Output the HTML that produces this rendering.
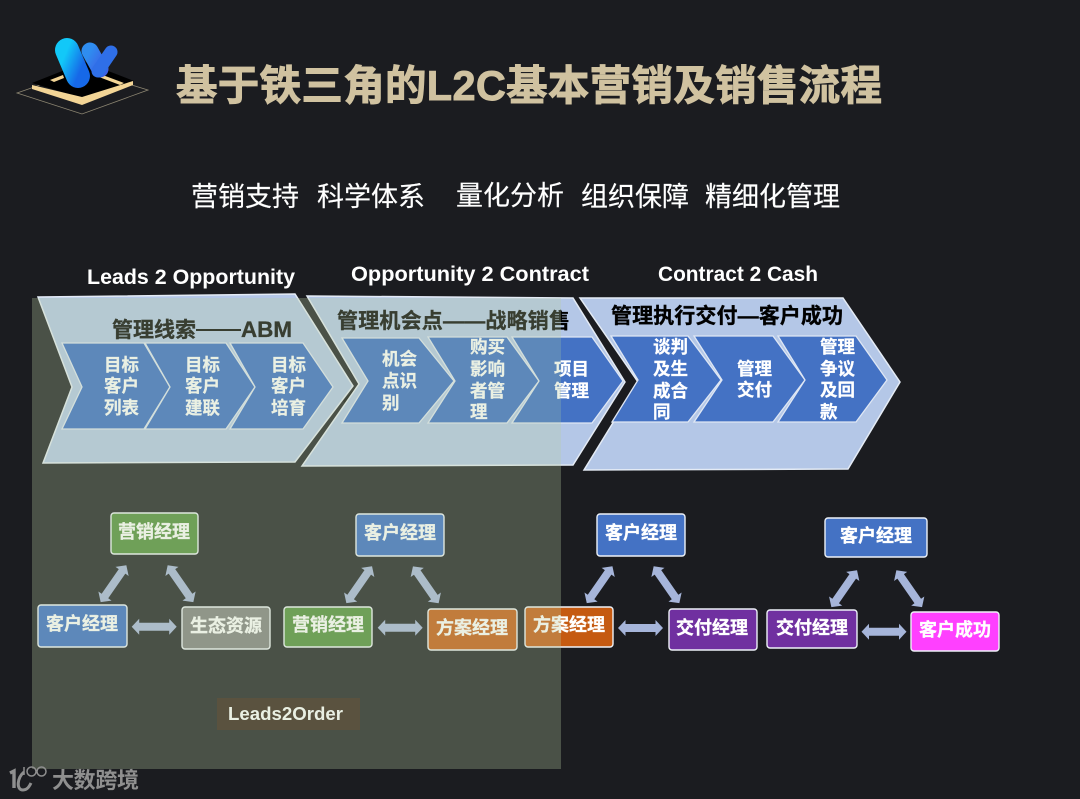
<!DOCTYPE html>
<html>
<head>
<meta charset="utf-8">
<style>
html,body{margin:0;padding:0;background:#1b1c20;width:1080px;height:799px;overflow:hidden}
svg{display:block}
text{font-family:"Liberation Sans","Noto Sans CJK SC",sans-serif}
.c{font-size:17.5px;font-weight:700;fill:#fff;stroke:#fff;stroke-width:.25}
.b{font-size:18px;font-weight:700;fill:#fff;text-anchor:middle;stroke:#fff;stroke-width:.3}
.h{font-size:21.5px;font-weight:700;fill:#fff}
.s{font-size:27px;fill:#fff;stroke:#fff;stroke-width:.15}
.k{font-weight:700;fill:#000;stroke:#000;stroke-width:.35}
.o{fill:#b4c7e7;stroke:#e4ebf5;stroke-width:1.5}
.i{stroke:#dfe7f4;stroke-width:1.3}
.r{stroke:#eef2f8;stroke-width:1.4}
.a{fill:#a6b5da}
</style>
</head>
<body>
<svg width="1080" height="799" viewBox="0 0 1080 799" xmlns="http://www.w3.org/2000/svg">
<defs>
<linearGradient id="g1" x1="0" y1="0" x2="1" y2="1"><stop offset="0" stop-color="#12c8f8"/><stop offset="1" stop-color="#1668e8"/></linearGradient>
<linearGradient id="g2" x1="0" y1="0" x2="1" y2="1"><stop offset="0" stop-color="#2f8df0"/><stop offset="1" stop-color="#3c62e6"/></linearGradient>
<polygon id="ar" points="-22.5,0 -15,-8 -15,-4 15,-4 15,-8 22.5,0 15,8 15,4 -15,4 -15,8"/>
<clipPath id="lp"><rect x="0" y="0" width="561" height="799"/></clipPath>
<clipPath id="rp"><rect x="561" y="0" width="519" height="799"/></clipPath>
<g id="ci">
<polygon points="342,338 419,338 454,381 419,423 342,423 368,381"/>
<polygon points="428,337 507,337 539,381 507,423 428,423 455,381"/>
<polygon points="512,337 592,337 623,381 592,423 512,423 539,381"/>
</g>
</defs>

<rect width="1080" height="799" fill="#1b1c20"/>

<!-- logo -->
<polygon points="17,93 83,70 148,90 82,114" fill="none" stroke="#8d8672" stroke-width=".8"/>
<polygon points="32,83 85,62 134,81 82,98" fill="#000"/>
<polygon points="32,85 82,97 133,81 133,85 82,105 32,89" fill="#f3d596"/>
<polygon points="50,80 63,75 64,78 54,82" fill="#f3d596"/>
<polygon points="100,74 124,83 120,85 99,77" fill="#f3d596"/>
<line x1="90" y1="51" x2="100" y2="69" stroke="url(#g2)" stroke-width="17" stroke-linecap="round"/>
<line x1="111" y1="52" x2="98" y2="71" stroke="#2f6fe8" stroke-width="13" stroke-linecap="round"/>
<line x1="67" y1="50" x2="78" y2="76" stroke="url(#g1)" stroke-width="24" stroke-linecap="round"/>

<!-- titles -->
<text x="176" y="100" font-size="41.5" font-weight="700" fill="#d0c2a0" stroke="#d0c2a0" stroke-width=".9" textLength="706">基于铁三角的L2C基本营销及销售流程</text>
<text class="s" x="191" y="206">营销支持</text>
<text class="s" x="317" y="206">科学体系</text>
<text class="s" x="456" y="205">量化分析</text>
<text class="s" x="581" y="206">组织保障</text>
<text class="s" x="705" y="206">精细化管理</text>

<text class="h" x="87" y="284" textLength="208" lengthAdjust="spacingAndGlyphs">Leads 2 Opportunity</text>
<text class="h" x="351" y="281" textLength="238" lengthAdjust="spacingAndGlyphs">Opportunity 2 Contract</text>
<text class="h" x="658" y="281" textLength="160" lengthAdjust="spacingAndGlyphs">Contract 2 Cash</text>

<!-- chevron 3 -->
<polygon class="o" points="580,298 843,298 900,382 848,469 584,470 638,382"/>
<!-- chevron 1 -->
<polygon class="o" points="38,297 295,294 353,386 295,462 43,463 72,387"/>
<!-- dark sliver near notch -->
<polyline points="349,368 361,384 344,402" fill="none" stroke="#0c0c0c" stroke-width="3"/>
<!-- chevron 2 -->
<polygon class="o" points="307,296 573,298 625,382 573,465 302,466 359,384"/>

<!-- inner chevrons -->
<g fill="#366ac5">
<polygon class="i" points="62,343 144,343 170,387 144,429 62,429 82,387"/>
<polygon class="i" points="145,343 226,343 255,387 226,429 145,429 170,387"/>
<polygon class="i" points="230,343 303,343 333,387 303,429 230,429 255,387"/>
</g>
<g class="i" fill="#366ac5" clip-path="url(#lp)"><use href="#ci"/></g>
<g class="i" fill="#4472c4" clip-path="url(#rp)"><use href="#ci"/></g>
<g fill="#4472c4">
<polygon class="i" points="611,336 688,336 721,380 688,422 612,422 638,380"/>
<polygon class="i" points="694,336 773,336 805,380 773,422 694,422 722,380"/>
<polygon class="i" points="778,336 856,336 887,380 856,422 778,422 805,380"/>
</g>

<!-- chevron headings -->
<text class="k" x="112" y="337" font-size="21" textLength="84">管理线索</text>
<rect x="196" y="329" width="45" height="2" fill="#000"/>
<text class="k" x="241" y="337" font-size="22" textLength="51" lengthAdjust="spacingAndGlyphs">ABM</text>
<text class="k" x="337" y="328" font-size="21" textLength="233">管理机会点——战略销售</text>
<text class="k" x="611" y="323" font-size="21" textLength="232">管理执行交付—客户成功</text>

<!-- inner labels -->
<text class="c" x="104" y="371">目标</text><text class="c" x="104" y="392">客户</text><text class="c" x="104" y="414">列表</text>
<text class="c" x="185" y="371">目标</text><text class="c" x="185" y="392">客户</text><text class="c" x="185" y="414">建联</text>
<text class="c" x="271" y="371">目标</text><text class="c" x="271" y="392">客户</text><text class="c" x="271" y="414">培育</text>

<text class="c" x="382" y="365">机会</text><text class="c" x="382" y="387">点识</text><text class="c" x="382" y="409">别</text>
<text class="c" x="470" y="353">购买</text><text class="c" x="470" y="375">影响</text><text class="c" x="470" y="397">者管</text><text class="c" x="470" y="418">理</text>
<text class="c" x="554" y="375">项目</text><text class="c" x="554" y="397">管理</text>

<text class="c" x="653" y="353">谈判</text><text class="c" x="653" y="375">及生</text><text class="c" x="653" y="397">成合</text><text class="c" x="653" y="418">同</text>
<text class="c" x="737" y="375">管理</text><text class="c" x="737" y="396">交付</text>
<text class="c" x="820" y="353">管理</text><text class="c" x="820" y="375">争议</text><text class="c" x="820" y="396">及回</text><text class="c" x="820" y="418">款</text>

<!-- role boxes -->
<rect class="r" x="111" y="513" width="87" height="41" rx="3" fill="#508d38"/>
<rect class="r" x="38" y="605" width="89" height="42" rx="3" fill="#366ac5"/>
<rect class="r" x="182" y="607" width="88" height="42" rx="3" fill="#7f7f7f"/>
<rect class="r" x="356" y="514" width="88" height="42" rx="3" fill="#366ac5"/>
<rect class="r" x="284" y="607" width="88" height="40" rx="3" fill="#508d38"/>
<rect class="r" x="428" y="609" width="89" height="41" rx="3" fill="#c55a11"/>
<rect class="r" x="525" y="607" width="88" height="40" rx="3" fill="#c55a11"/>
<rect class="r" x="597" y="514" width="88" height="42" rx="3" fill="#4472c4"/>
<rect class="r" x="669" y="609" width="88" height="41" rx="3" fill="#7030a0"/>
<rect class="r" x="767" y="610" width="90" height="38" rx="3" fill="#7030a0"/>
<rect class="r" x="825" y="518" width="102" height="39" rx="3" fill="#4472c4"/>
<rect class="r" x="911" y="612" width="88" height="39" rx="3" fill="#ff40ff"/>

<text class="b" x="154" y="538">营销经理</text>
<text class="b" x="82" y="630">客户经理</text>
<text class="b" x="226" y="632">生态资源</text>
<text class="b" x="400" y="539">客户经理</text>
<text class="b" x="328" y="631">营销经理</text>
<text class="b" x="472" y="634">方案经理</text>
<text class="b" x="569" y="631">方案经理</text>
<text class="b" x="641" y="539">客户经理</text>
<text class="b" x="712" y="634">交付经理</text>
<text class="b" x="812" y="634">交付经理</text>
<text class="b" x="876" y="542">客户经理</text>
<text class="b" x="955" y="636">客户成功</text>

<!-- double arrows -->
<use href="#ar" class="a" transform="translate(113.5,583.7) rotate(-55.2)"/>
<use href="#ar" class="a" transform="translate(180.5,583.7) rotate(55.2)"/>
<use href="#ar" class="a" transform="translate(154.2,626.7)"/>
<use href="#ar" class="a" transform="translate(359.2,584.7) rotate(-55.2)"/>
<use href="#ar" class="a" transform="translate(425.8,584.8) rotate(55.2)"/>
<use href="#ar" class="a" transform="translate(400.2,627.7)"/>
<use href="#ar" class="a" transform="translate(599.6,584.7) rotate(-55.2)"/>
<use href="#ar" class="a" transform="translate(666.5,584.7) rotate(55.2)"/>
<use href="#ar" class="a" transform="translate(640.5,628)"/>
<use href="#ar" class="a" transform="translate(844.2,588.7) rotate(-55.2)"/>
<use href="#ar" class="a" transform="translate(909.2,588.7) rotate(55.2)"/>
<use href="#ar" class="a" transform="translate(884,631.7)"/>

<!-- Leads2Order -->
<rect x="217" y="698" width="143" height="32" fill="#321e15"/>
<text x="228" y="720" font-size="18.5" font-weight="700" fill="#fff" textLength="115" lengthAdjust="spacingAndGlyphs">Leads2Order</text>

<!-- translucent panel over everything -->
<rect x="32" y="298" width="529" height="471" fill="rgb(184,205,162)" fill-opacity=".3"/>

<!-- watermark -->
<path d="M10,773 L14,771 L14,788" fill="none" stroke="#8f8f8f" stroke-width="3.4"/>
<path d="M24,772 C17,778 16,790 23,790 C27,790 29,787 31,783" fill="none" stroke="#8f8f8f" stroke-width="3"/>
<path d="M24,767 L24,775" fill="none" stroke="#8f8f8f" stroke-width="1.5"/>
<circle cx="31.500" cy="771.500" r="4.500" fill="none" stroke="#8f8f8f" stroke-width="1.500"/>
<circle cx="41.500" cy="771.500" r="4.500" fill="none" stroke="#8f8f8f" stroke-width="1.500"/>
<text x="52" y="788" font-size="22" font-weight="700" fill="#8f8f8f" textLength="87">大数跨境</text>
</svg>
</body>
</html>
